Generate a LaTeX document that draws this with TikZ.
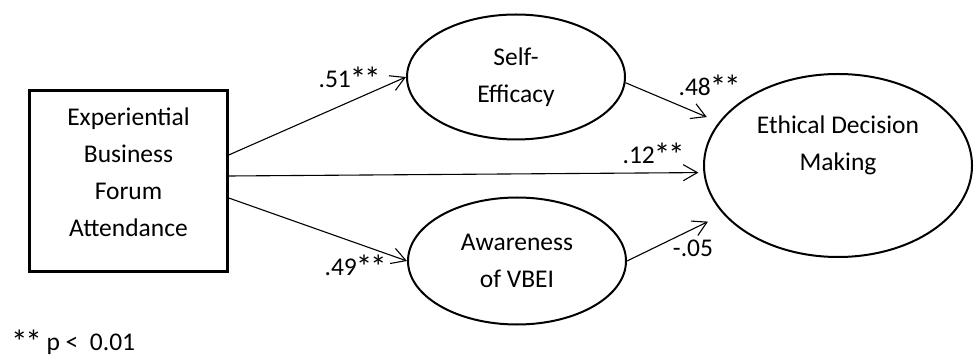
\documentclass[tikz,border=0pt]{standalone}
\usepackage{fontspec}
\setmainfont{Carlito}
\usetikzlibrary{arrows.meta,shapes.geometric}
\newcommand\bigstar{\makebox[0.56em][c]{\raisebox{-3pt}{\scalebox{1.3}{*}}}}
\begin{document}
\begin{tikzpicture}[x=1pt,y=-1pt,
  every node/.style={font=\fontsize{25.5}{37}\selectfont, align=center},
  latent/.style={draw, ellipse, line width=2pt, inner sep=0pt},
  observed/.style={draw, rectangle, line width=2.5pt, minimum width=198pt, minimum height=181pt, inner sep=0pt},
  path/.style={line width=1.1pt, -{Straight Barb[length=14pt,width=16pt]}},
  coef/.style={inner sep=0pt}]
\useasboundingbox (0,0) rectangle (974,355);
\node[observed] (box) at (128.5,181) {Experiential\\Business\\Forum\\Attendance\\[-20pt]\mbox{}};
\node[latent, minimum width=218pt, minimum height=125pt] (se) at (516,77) {Self-\\Efficacy};
\node[latent, minimum width=218pt, minimum height=127pt] (aw) at (517,261) {Awareness\\of VBEI};
\node[latent, minimum width=268pt, minimum height=183pt] (edm) at (838,165.5) {Ethical Decision\\Making\\[8pt]\mbox{}};
\draw[path] ([yshift=26pt]box.east) -- (se.west);
\draw[path, shorten >=5pt] ([yshift=5pt]box.east) -- (edm.183);
\draw[path] ([yshift=-17pt]box.east) -- (aw.west);
\draw[path, shorten >=13pt] (se.-3) -- (edm.160);
\draw[path, shorten >=17pt] (aw.east) -- (edm.203);
\node[coef] (c51) at (349,79) {.51\bigstar\bigstar};
\node[coef] (c49) at (355,267) {.49\bigstar\bigstar};
\node[coef] (c48) at (709,87) {.48\bigstar\bigstar};
\node[coef] (c12) at (653,155) {.12\bigstar\bigstar};
\node[coef] (c05) at (693,248) {-.05};
\node[coef, anchor=west] (note) at (12,342) {\bigstar\bigstar\ p <\ \ 0.01};
\end{tikzpicture}
\end{document}
